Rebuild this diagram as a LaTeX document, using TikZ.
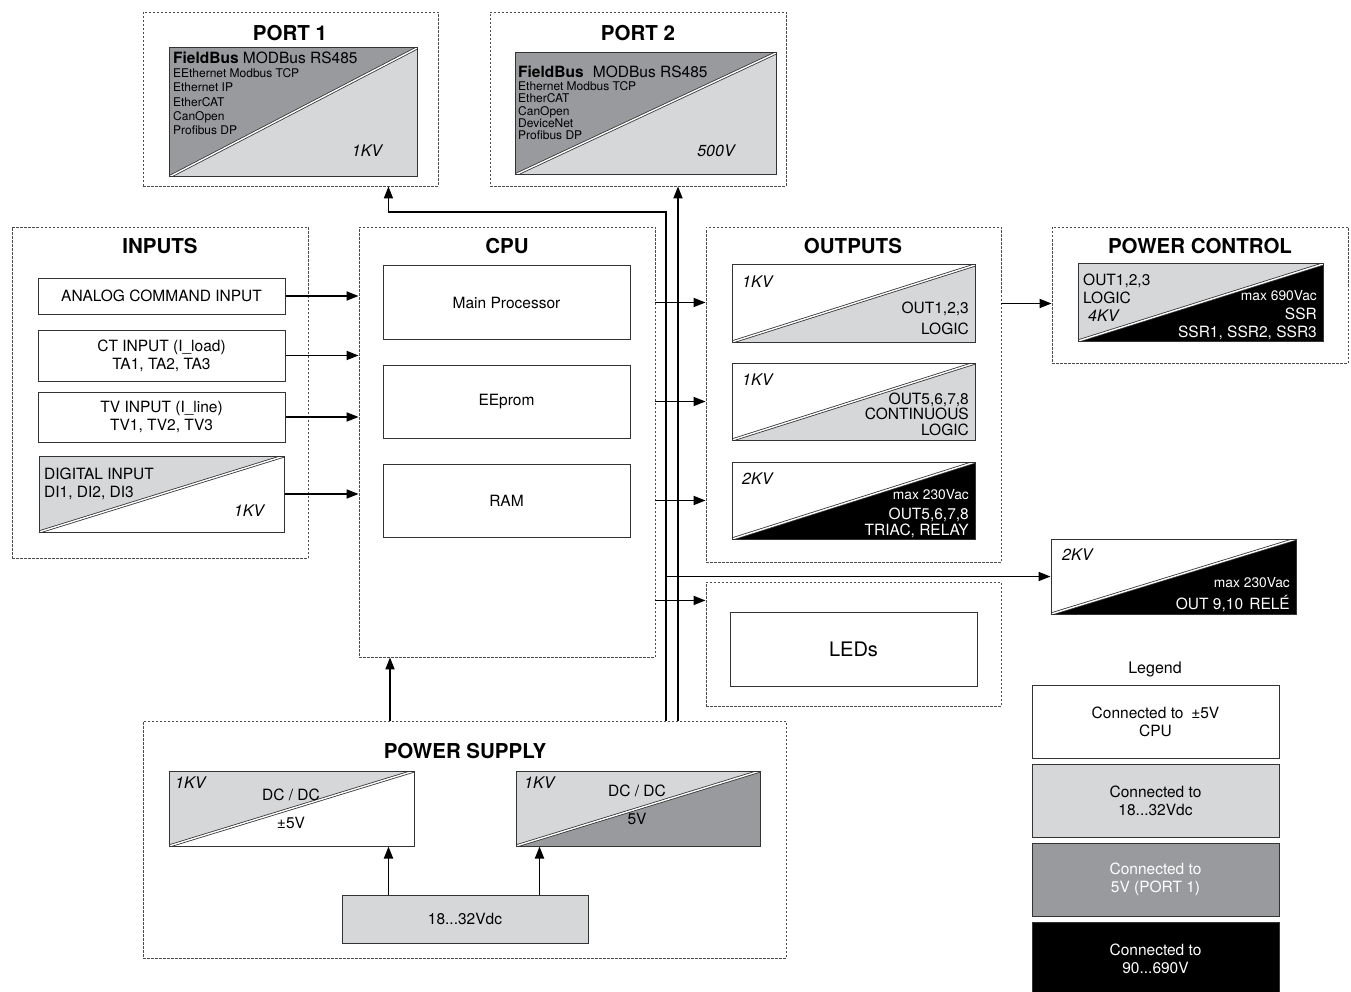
\documentclass[tikz,border=0pt]{standalone}
\usepackage{fontspec}
\setmainfont{TeX Gyre Heros}
\usetikzlibrary{positioning,calc,fit,arrows.meta}
\tikzset{>={Triangle[length=12pt,width=9pt]}}
\definecolor{boxlight}{RGB}{214,215,217}
\definecolor{boxdark}{RGB}{152,154,157}

\tikzset{
  group/.style={draw=black!70, line width=0.9pt, dash pattern=on 2.5pt off 1.5pt, inner sep=0pt},
  box/.style={draw=black!80, line width=1pt, inner sep=0pt},
  twotone/.style 2 args={box, path picture={
    \fill[#1] (path picture bounding box.south west) |- (path picture bounding box.north east) -- cycle;
    \fill[#2] (path picture bounding box.south west) -| (path picture bounding box.north east) -- cycle;
    \draw[line width=0.8pt, double=white, double distance=1.4pt]
      (path picture bounding box.south west) -- (path picture bounding box.north east);
  }},
  title/.style={inner sep=0pt, font=\fontsize{20.5}{24}\selectfont\bfseries},
  txt/.style={inner sep=0pt, align=center, font=\fontsize{15.5}{18}\selectfont},
  small/.style={inner sep=0pt, font=\fontsize{12}{14.3}\selectfont},
  vac/.style={inner sep=0pt, font=\fontsize{13.8}{16}\selectfont},
  kv/.style={inner sep=0pt, font=\fontsize{16}{18}\selectfont\itshape},
  link/.style={->, line width=1.8pt},
}

\begin{document}
\begin{tikzpicture}[x=1pt, y=-1pt]
\useasboundingbox (0,0) rectangle (1351,992);

% Port 1
\node[group, fit={(143,12) (438,186)}] (port1) {};
\node[title] (port1title) at (290,33) {PORT 1};
\node[twotone={boxdark}{boxlight}, fit={(169,48) (417,177)}] (port1box) {};
\node[txt, anchor=west] (port1bus) at (173,58) {\textbf{FieldBus} MODBus RS485};
\node[small, anchor=north west, align=left] (port1list) at (173,68.5)
  {EEthernet Modbus TCP\\Ethernet IP\\EtherCAT\\CanOpen\\Profibus DP};
\node[kv] (port1kv) at (367,151) {1KV};

% Port 2
\node[group, fit={(490,12) (786,186)}] (port2) {};
\node[title] (port2title) at (638,33) {PORT 2};
\node[twotone={boxdark}{boxlight}, fit={(515,53) (776,175)}] (port2box) {};
\node[txt, anchor=west] (port2bus) at (518,72) {\textbf{FieldBus}\hspace{0.6em}MODBus RS485};
\node[small, font=\fontsize{12}{12.3}\selectfont, anchor=north west, align=left] (port2list) at (518,81.5)
  {Ethernet Modbus TCP\\EtherCAT\\CanOpen\\DeviceNet\\Profibus DP};
\node[kv] (port2kv) at (716,151) {500V};

% Inputs
\node[group, fit={(12,227) (308,558)}] (inputs) {};
\node[title] (inputstitle) at (160,246) {INPUTS};
\node[box, fit={(38,278) (285,314)}, label={[txt]center:ANALOG COMMAND INPUT}] (aci) {};
\node[box, fit={(38,330) (285,381)}, label={[txt]center:{CT INPUT (I\_load)\\TA1, TA2, TA3}}] (ct) {};
\node[box, fit={(38,392) (285,442)}, label={[txt]center:{TV INPUT (I\_line)\\TV1, TV2, TV3}}] (tv) {};
\node[twotone={boxlight}{white}, fit={(39,456) (284,532)}] (di) {};
\node[txt, anchor=north west, align=left] (ditext) at (44,467.5) {DIGITAL INPUT\\DI1, DI2, DI3};
\node[kv] (dikv) at (249,511) {1KV};

% CPU
\node[group, fit={(359,227) (655,657)}] (cpu) {};
\node[title] (cputitle) at (507,246) {CPU};
\node[box, fit={(383,266) (630,339)}, label={[txt]center:Main Processor}] (proc) {};
\node[box, fit={(383,365) (630,438)}, label={[txt]center:EEprom}] (eeprom) {};
\node[box, fit={(383,464) (630,537)}, label={[txt]center:RAM}] (ram) {};

% Outputs
\node[group, fit={(706,227) (1001,562)}] (outputs) {};
\node[title] (outputstitle) at (853,246) {OUTPUTS};
\node[twotone={white}{boxlight}, fit={(732,265) (975,342)}] (out1) {};
\node[kv, anchor=west] (out1kv) at (742,282) {1KV};
\node[txt, font=\fontsize{15.5}{21}\selectfont, anchor=north east, align=right] (out1text) at (969,301.5)
  {OUT1,2,3\\LOGIC};
\node[twotone={white}{boxlight}, fit={(732,363) (975,440)}] (out2) {};
\node[kv, anchor=west] (out2kv) at (742,380) {1KV};
\node[txt, font=\fontsize{15.5}{15.5}\selectfont, anchor=north east, align=right] (out2text) at (969,392.5)
  {OUT5,6,7,8\\CONTINUOUS\\LOGIC};
\node[twotone={white}{black}, fit={(732,462) (975,539)}] (out3) {};
\node[kv, anchor=west] (out3kv) at (742,479) {2KV};
\node[vac, text=white, anchor=east] (out3vac) at (969,495) {max 230Vac};
\node[txt, font=\fontsize{15.5}{16}\selectfont, text=white, anchor=north east, align=right] (out3text) at (969,507.5)
  {OUT5,6,7,8\\TRIAC, RELAY};

% LEDs
\node[group, fit={(706,582) (1001,706)}] (ledsgroup) {};
\node[box, fit={(730,612) (977,686)},
  label={[txt, font=\fontsize{20}{24}\selectfont]center:LEDs}] (leds) {};

% Power control
\node[group, fit={(1052,227) (1348,363)}] (pc) {};
\node[title] (pctitle) at (1200,246) {POWER CONTROL};
\node[twotone={boxlight}{black}, fit={(1078,264) (1323,341)}] (ssr) {};
\node[txt, anchor=north west, align=left] (ssrlogic) at (1083,273.5) {OUT1,2,3\\LOGIC};
\node[kv, anchor=west] (ssrkv) at (1088,316) {4KV};
\node[vac, text=white, anchor=east] (ssrvac) at (1317,296) {max 690Vac};
\node[txt, text=white, anchor=north east, align=right] (ssrtext) at (1317,307.5)
  {SSR\\SSR1, SSR2, SSR3};

% Relay output
\node[twotone={white}{black}, fit={(1051,539) (1296,614)}] (relay) {};
\node[kv, anchor=west] (relaykv) at (1062,555) {2KV};
\node[vac, text=white, anchor=east] (relayvac) at (1290,583) {max 230Vac};
\node[txt, text=white, anchor=east] (relaytext) at (1290,604) {OUT 9,10\hspace{0.4em}RELÉ};

% Power supply
\node[group, fit={(143,721) (786,958)}] (ps) {};
\node[title] (pstitle) at (465,751) {POWER SUPPLY};
\node[twotone={boxlight}{white}, fit={(169,771) (414,846)}] (dc1) {};
\node[kv, anchor=west] (dc1kv) at (175,783) {1KV};
\node[txt] (dc1name) at (291,795) {DC / DC};
\node[txt] (dc1volt) at (291,823) {±5V};
\node[twotone={boxlight}{boxdark}, fit={(516,771) (760,846)}] (dc2) {};
\node[kv, anchor=west] (dc2kv) at (524,783) {1KV};
\node[txt] (dc2name) at (637,791) {DC / DC};
\node[txt] (dc2volt) at (637,819) {5V};
\node[box, fill=boxlight, fit={(342,895) (588,943)}, label={[txt]center:18...32Vdc}] (vdc) {};

% Legend
\node[txt, font=\fontsize{16}{18}\selectfont] (legend) at (1155,669) {Legend};
\node[box, fit={(1032,685) (1279,758)},
  label={[txt]center:{Connected to\hspace{0.5em}±5V\\CPU}}] (leg1) {};
\node[box, fill=boxlight, fit={(1032,764) (1279,837)},
  label={[txt]center:{Connected to\\18...32Vdc}}] (leg2) {};
\node[box, fill=boxdark, fit={(1032,843) (1279,916)},
  label={[txt, text=white]center:{Connected to\\5V (PORT 1)}}] (leg3) {};
\node[box, fill=black, fit={(1032,922) (1279,996)},
  label={[txt, text=white]center:{Connected to\\90...690V}}] (leg4) {};

% Connectors
\draw[link] (aci.east) -- (aci.east -| cpu.west);
\draw[link] (ct.east) -- (ct.east -| cpu.west);
\draw[link] (tv.east) -- (tv.east -| cpu.west);
\draw[link] (di.east) -- (di.east -| cpu.west);

\draw[link] (proc -| cpu.east) -- (proc -| outputs.west);
\draw[link] (eeprom -| cpu.east) -- (eeprom -| outputs.west);
\draw[link] (ram -| cpu.east) -- (ram -| outputs.west);
\draw[link] ($(cpu.south east)+(0,-57)$) coordinate (cpuleds) -- (cpuleds -| ledsgroup.west);
\draw[link] (out1 -| outputs.east) -- (out1 -| pc.west);

\coordinate (pscpu) at (390,721);
\draw[link] (pscpu) -- (pscpu |- cpu.south);
\coordinate (bus1) at (666,721);
\coordinate (bus2) at (678,721);
\draw[link] (bus1) -- ++(0,-509) -| ($(port1.south east)+(-50,0)$);
\draw[link] (bus2) -- (bus2 |- port2.south);
\draw[link] (bus1 |- relay.west) -- (relay.west);

\draw[link] ($(vdc.north west)+(47,0)$) coordinate (vdcdc1) -- (vdcdc1 |- dc1.south);
\draw[link] ($(vdc.north west)+(198,0)$) coordinate (vdcdc2) -- (vdcdc2 |- dc2.south);

\end{tikzpicture}
\end{document}
